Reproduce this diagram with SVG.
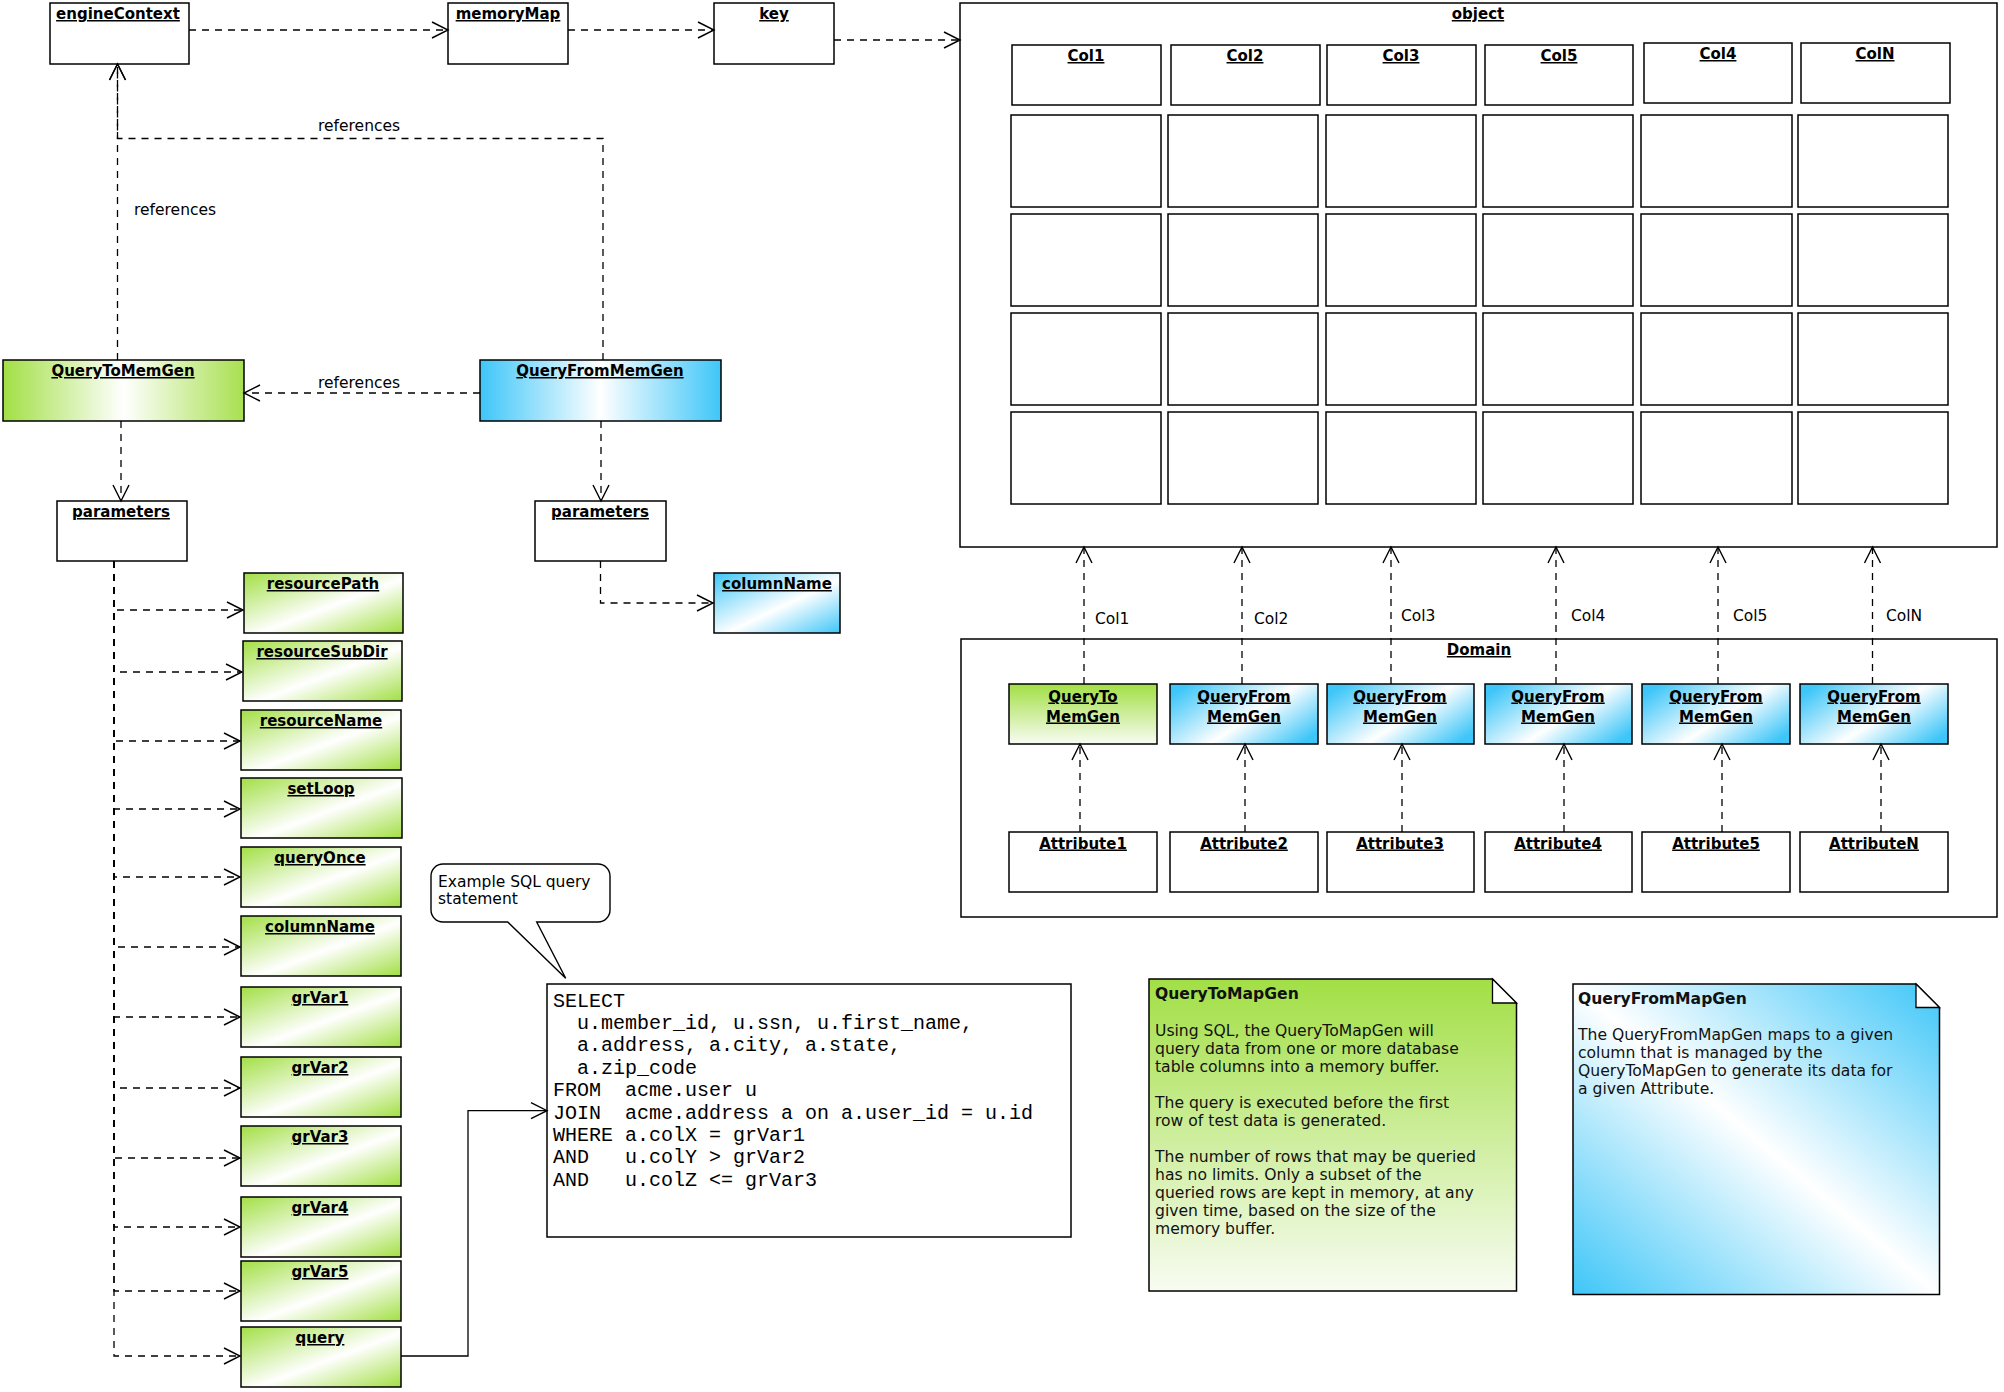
<svg xmlns="http://www.w3.org/2000/svg" width="2004" height="1392" viewBox="0 0 2004 1392">
<style>
.box{fill:#fff;stroke:#000;stroke-width:1.5}
.gh{fill:url(#gH);stroke:#000;stroke-width:1.5}
.bh{fill:url(#bH);stroke:#000;stroke-width:1.5}
.gd{fill:url(#gD);stroke:#000;stroke-width:1.5}
.bd{fill:url(#bD);stroke:#000;stroke-width:1.5}
.bx{fill:url(#bX);stroke:#000;stroke-width:1.5}
.gv{fill:url(#gV);stroke:#000;stroke-width:1.5}
.t{font-family:'DejaVu Sans',Verdana,sans-serif;font-size:15px;font-weight:bold;text-decoration:underline;text-anchor:middle;fill:#000}
.lbl{font-family:'DejaVu Sans',Verdana,sans-serif;font-size:15.5px;fill:#000}
.nt{font-family:'DejaVu Sans',Verdana,sans-serif;font-size:15.6px;fill:#111}
.ntb{font-family:'DejaVu Sans',Verdana,sans-serif;font-size:15.6px;font-weight:bold;fill:#111}
.sql{font-family:'Liberation Mono','Courier New',monospace;font-size:20px;fill:#000;white-space:pre}
.dash{fill:none;stroke:#000;stroke-width:1.3;stroke-dasharray:7 6;marker-end:url(#arr)}
.solid{fill:none;stroke:#000;stroke-width:1.3;marker-end:url(#arr)}
</style>
<defs>
<marker id="arr" markerUnits="userSpaceOnUse" markerWidth="20" markerHeight="20" viewBox="0 0 20 20" refX="17" refY="10" orient="auto">
<path d="M1,2 L17,10 L1,18" fill="none" stroke="#000" stroke-width="1.4"/>
</marker>
<linearGradient id="gH" x1="0" y1="0" x2="1" y2="0"><stop offset="0" stop-color="#a2df45"/><stop offset="0.5" stop-color="#ffffff"/><stop offset="1" stop-color="#a8e050"/></linearGradient>
<linearGradient id="bH" x1="0" y1="0" x2="1" y2="0"><stop offset="0" stop-color="#3ec6f8"/><stop offset="0.5" stop-color="#ffffff"/><stop offset="1" stop-color="#3ec6f8"/></linearGradient>
<linearGradient id="gD" x1="0" y1="0" x2="1" y2="1"><stop offset="0" stop-color="#a2df45"/><stop offset="0.55" stop-color="#ffffff"/><stop offset="1" stop-color="#a2df45"/></linearGradient>
<linearGradient id="bD" x1="0" y1="0" x2="1" y2="1"><stop offset="0" stop-color="#3ec6f8"/><stop offset="0.55" stop-color="#ffffff"/><stop offset="1" stop-color="#3ec6f8"/></linearGradient>
<linearGradient id="bX" x1="0" y1="0.2" x2="1" y2="0.8"><stop offset="0" stop-color="#3ec6f8"/><stop offset="0.55" stop-color="#ffffff"/><stop offset="1" stop-color="#3ec6f8"/></linearGradient>
<linearGradient id="gV" x1="0" y1="0" x2="0" y2="1"><stop offset="0" stop-color="#a2df45"/><stop offset="1" stop-color="#f8fcf2"/></linearGradient>
<linearGradient id="bN" x1="1" y1="0" x2="0" y2="1"><stop offset="0" stop-color="#3ec6f8"/><stop offset="0.5" stop-color="#ffffff"/><stop offset="1" stop-color="#3ec6f8"/></linearGradient>
</defs>
<rect width="2004" height="1392" fill="#fff"/>

<g id="engineContext"><rect class="box" x="50" y="3" width="139" height="61"/><text class="t" x="118" y="19">engineContext</text></g>
<g id="memoryMap"><rect class="box" x="448" y="3" width="120" height="61"/><text class="t" x="508" y="19">memoryMap</text></g>
<g id="key"><rect class="box" x="714" y="3" width="120" height="61"/><text class="t" x="774" y="19">key</text></g>

<g id="object">
<rect class="box" x="960" y="3" width="1037" height="544"/>
<text class="t" x="1478" y="19">object</text>
<rect class="box" x="1012" y="45" width="149" height="60"/><text class="t" x="1086" y="61">Col1</text>
<rect class="box" x="1171" y="45" width="149" height="60"/><text class="t" x="1245" y="61">Col2</text>
<rect class="box" x="1327" y="45" width="149" height="60"/><text class="t" x="1401" y="61">Col3</text>
<rect class="box" x="1485" y="45" width="148" height="60"/><text class="t" x="1559" y="61">Col5</text>
<rect class="box" x="1644" y="43" width="148" height="60"/><text class="t" x="1718" y="59">Col4</text>
<rect class="box" x="1801" y="43" width="149" height="60"/><text class="t" x="1875" y="59">ColN</text>
<g id="object-grid">
<rect class="box" x="1011" y="115" width="150" height="92"/><rect class="box" x="1168" y="115" width="150" height="92"/><rect class="box" x="1326" y="115" width="150" height="92"/><rect class="box" x="1483" y="115" width="150" height="92"/><rect class="box" x="1641" y="115" width="151" height="92"/><rect class="box" x="1798" y="115" width="150" height="92"/>
<rect class="box" x="1011" y="214" width="150" height="92"/><rect class="box" x="1168" y="214" width="150" height="92"/><rect class="box" x="1326" y="214" width="150" height="92"/><rect class="box" x="1483" y="214" width="150" height="92"/><rect class="box" x="1641" y="214" width="151" height="92"/><rect class="box" x="1798" y="214" width="150" height="92"/>
<rect class="box" x="1011" y="313" width="150" height="92"/><rect class="box" x="1168" y="313" width="150" height="92"/><rect class="box" x="1326" y="313" width="150" height="92"/><rect class="box" x="1483" y="313" width="150" height="92"/><rect class="box" x="1641" y="313" width="151" height="92"/><rect class="box" x="1798" y="313" width="150" height="92"/>
<rect class="box" x="1011" y="412" width="150" height="92"/><rect class="box" x="1168" y="412" width="150" height="92"/><rect class="box" x="1326" y="412" width="150" height="92"/><rect class="box" x="1483" y="412" width="150" height="92"/><rect class="box" x="1641" y="412" width="151" height="92"/><rect class="box" x="1798" y="412" width="150" height="92"/>
</g>
</g>

<g id="QueryToMemGen"><rect class="gh" x="3" y="360" width="241" height="61"/><text class="t" x="123" y="376">QueryToMemGen</text></g>
<g id="QueryFromMemGen"><rect class="bh" x="480" y="360" width="241" height="61"/><text class="t" x="600" y="376">QueryFromMemGen</text></g>
<g id="parameters1"><rect class="box" x="57" y="501" width="130" height="60"/><text class="t" x="121" y="517">parameters</text></g>
<g id="parameters2"><rect class="box" x="535" y="501" width="131" height="60"/><text class="t" x="600" y="517">parameters</text></g>
<g id="columnName2"><rect class="bd" x="714" y="573" width="126" height="60"/><text class="t" x="777" y="589">columnName</text></g>

<g id="resourcePath"><rect class="gd" x="244" y="573" width="159" height="60"/><text class="t" x="323" y="589">resourcePath</text></g>
<g id="resourceSubDir"><rect class="gd" x="243" y="641" width="159" height="60"/><text class="t" x="322" y="657">resourceSubDir</text></g>
<g id="resourceName"><rect class="gd" x="241" y="710" width="160" height="60"/><text class="t" x="321" y="726">resourceName</text></g>
<g id="setLoop"><rect class="gd" x="241" y="778" width="161" height="60"/><text class="t" x="321" y="794">setLoop</text></g>
<g id="queryOnce"><rect class="gd" x="241" y="847" width="160" height="60"/><text class="t" x="320" y="863">queryOnce</text></g>
<g id="columnName1"><rect class="gd" x="241" y="916" width="160" height="60"/><text class="t" x="320" y="932">columnName</text></g>
<g id="grVar1"><rect class="gd" x="241" y="987" width="160" height="60"/><text class="t" x="320" y="1003">grVar1</text></g>
<g id="grVar2"><rect class="gd" x="241" y="1057" width="160" height="60"/><text class="t" x="320" y="1073">grVar2</text></g>
<g id="grVar3"><rect class="gd" x="241" y="1126" width="160" height="60"/><text class="t" x="320" y="1142">grVar3</text></g>
<g id="grVar4"><rect class="gd" x="241" y="1197" width="160" height="60"/><text class="t" x="320" y="1213">grVar4</text></g>
<g id="grVar5"><rect class="gd" x="241" y="1261" width="160" height="60"/><text class="t" x="320" y="1277">grVar5</text></g>
<g id="query"><rect class="gd" x="241" y="1327" width="160" height="60"/><text class="t" x="320" y="1343">query</text></g>

<g id="callout">
<path d="M443,864 H598 A12,12 0 0 1 610,876 V910 A12,12 0 0 1 598,922 H536.7 L565.7,978.3 L507.7,922 H443 A12,12 0 0 1 431,910 V876 A12,12 0 0 1 443,864 Z" fill="#fff" stroke="#000" stroke-width="1.4"/>
<text class="lbl" x="438" y="887">Example SQL query</text>
<text class="lbl" x="438" y="904">statement</text>
</g>

<g id="sqlStatement">
<rect class="box" x="547" y="984" width="524" height="253"/>
<text class="sql" x="553" y="1006.5">SELECT</text>
<text class="sql" x="553" y="1028.9">  u.member_id, u.ssn, u.first_name,</text>
<text class="sql" x="553" y="1051.3">  a.address, a.city, a.state,</text>
<text class="sql" x="553" y="1073.7">  a.zip_code</text>
<text class="sql" x="553" y="1096.1">FROM  acme.user u</text>
<text class="sql" x="553" y="1118.5">JOIN  acme.address a on a.user_id = u.id</text>
<text class="sql" x="553" y="1140.9">WHERE a.colX = grVar1</text>
<text class="sql" x="553" y="1163.3">AND   u.colY &gt; grVar2</text>
<text class="sql" x="553" y="1185.7">AND   u.colZ &lt;= grVar3</text>
</g>

<g id="Domain">
<rect class="box" x="961" y="639" width="1036" height="278"/>
<text class="t" x="1479" y="655">Domain</text>
</g>
<g id="dQueryToMemGen"><rect class="gv" x="1009" y="684" width="148" height="60"/><text class="t" x="1083" y="701.5">QueryTo</text><text class="t" x="1083" y="721.5">MemGen</text></g>
<g id="dQueryFromMemGen2"><rect class="bx" x="1170" y="684" width="148" height="60"/><text class="t" x="1244" y="701.5">QueryFrom</text><text class="t" x="1244" y="721.5">MemGen</text></g>
<g id="dQueryFromMemGen3"><rect class="bx" x="1327" y="684" width="147" height="60"/><text class="t" x="1400" y="701.5">QueryFrom</text><text class="t" x="1400" y="721.5">MemGen</text></g>
<g id="dQueryFromMemGen4"><rect class="bx" x="1485" y="684" width="147" height="60"/><text class="t" x="1558" y="701.5">QueryFrom</text><text class="t" x="1558" y="721.5">MemGen</text></g>
<g id="dQueryFromMemGen5"><rect class="bx" x="1642" y="684" width="148" height="60"/><text class="t" x="1716" y="701.5">QueryFrom</text><text class="t" x="1716" y="721.5">MemGen</text></g>
<g id="dQueryFromMemGenN"><rect class="bx" x="1800" y="684" width="148" height="60"/><text class="t" x="1874" y="701.5">QueryFrom</text><text class="t" x="1874" y="721.5">MemGen</text></g>
<g id="Attribute1"><rect class="box" x="1009" y="832" width="148" height="60"/><text class="t" x="1083" y="848.5">Attribute1</text></g>
<g id="Attribute2"><rect class="box" x="1170" y="832" width="148" height="60"/><text class="t" x="1244" y="848.5">Attribute2</text></g>
<g id="Attribute3"><rect class="box" x="1327" y="832" width="147" height="60"/><text class="t" x="1400" y="848.5">Attribute3</text></g>
<g id="Attribute4"><rect class="box" x="1485" y="832" width="147" height="60"/><text class="t" x="1558" y="848.5">Attribute4</text></g>
<g id="Attribute5"><rect class="box" x="1642" y="832" width="148" height="60"/><text class="t" x="1716" y="848.5">Attribute5</text></g>
<g id="AttributeN"><rect class="box" x="1800" y="832" width="148" height="60"/><text class="t" x="1874" y="848.5">AttributeN</text></g>

<g id="noteQueryToMapGen">
<path d="M1149,979 H1492.5 L1516.5,1003 V1291 H1149 Z" fill="url(#gV)" stroke="#000" stroke-width="1.5"/>
<path d="M1492.5,979 L1516.5,1003 L1492.5,1003 Z" fill="#fff" stroke="#000" stroke-width="1.3"/>
<text class="ntb" x="1155" y="999">QueryToMapGen</text>
<text class="nt" x="1155" y="1035.5">Using SQL, the QueryToMapGen will</text>
<text class="nt" x="1155" y="1053.5">query data from one or more database</text>
<text class="nt" x="1155" y="1071.5">table columns into a memory buffer.</text>
<text class="nt" x="1155" y="1108">The query is executed before the first</text>
<text class="nt" x="1155" y="1126">row of test data is generated.</text>
<text class="nt" x="1155" y="1162">The number of rows that may be queried</text>
<text class="nt" x="1155" y="1180">has no limits. Only a subset of the</text>
<text class="nt" x="1155" y="1198">queried rows are kept in memory, at any</text>
<text class="nt" x="1155" y="1216">given time, based on the size of the</text>
<text class="nt" x="1155" y="1234">memory buffer.</text>
</g>

<g id="noteQueryFromMapGen">
<path d="M1573,984 H1916 L1939.5,1007.5 V1294.5 H1573 Z" fill="url(#bN)" stroke="#000" stroke-width="1.5"/>
<path d="M1916,984 L1939.5,1007.5 L1916,1007.5 Z" fill="#fff" stroke="#000" stroke-width="1.3"/>
<text class="ntb" x="1578" y="1004">QueryFromMapGen</text>
<text class="nt" x="1578" y="1040">The QueryFromMapGen maps to a given</text>
<text class="nt" x="1578" y="1058">column that is managed by the</text>
<text class="nt" x="1578" y="1076">QueryToMapGen to generate its data for</text>
<text class="nt" x="1578" y="1094">a given Attribute.</text>
</g>

<g id="connectors">
<line class="dash" x1="189" y1="30" x2="448" y2="30"/>
<line class="dash" x1="568" y1="30" x2="714" y2="30"/>
<line class="dash" x1="834" y1="40" x2="960" y2="40"/>
<line class="dash" x1="117.5" y1="360" x2="117.5" y2="64"/>
<polyline class="dash" points="603,360 603,138.5 117.5,138.5 117.5,64"/>
<line class="dash" x1="480" y1="393" x2="244" y2="393"/>
<line class="dash" x1="121" y1="421" x2="121" y2="501"/>
<line class="dash" x1="601" y1="421" x2="601" y2="501"/>
<polyline class="dash" points="600.5,561 600.5,603 713,603"/>
<polyline class="dash" points="114,561 114,610 243,610"/>
<polyline class="dash" points="114,561 114,672 242,672"/>
<polyline class="dash" points="114,561 114,741 240,741"/>
<polyline class="dash" points="114,561 114,809 240,809"/>
<polyline class="dash" points="114,561 114,877 240,877"/>
<polyline class="dash" points="114,561 114,947 240,947"/>
<polyline class="dash" points="114,561 114,1017 240,1017"/>
<polyline class="dash" points="114,561 114,1088 240,1088"/>
<polyline class="dash" points="114,561 114,1158 240,1158"/>
<polyline class="dash" points="114,561 114,1227 240,1227"/>
<polyline class="dash" points="114,561 114,1291 240,1291"/>
<polyline class="dash" points="114,561 114,1356 240,1356"/>
<polyline class="solid" points="401,1356 468,1356 468,1110.7 547,1110.7"/>
<line class="dash" x1="1084" y1="684" x2="1084" y2="547"/>
<line class="dash" x1="1242" y1="684" x2="1242" y2="547"/>
<line class="dash" x1="1391" y1="684" x2="1391" y2="547"/>
<line class="dash" x1="1556" y1="684" x2="1556" y2="547"/>
<line class="dash" x1="1718" y1="684" x2="1718" y2="547"/>
<line class="dash" x1="1872.5" y1="684" x2="1872.5" y2="547"/>
<line class="dash" x1="1080" y1="832" x2="1080" y2="744"/>
<line class="dash" x1="1245" y1="832" x2="1245" y2="744"/>
<line class="dash" x1="1402" y1="832" x2="1402" y2="744"/>
<line class="dash" x1="1564" y1="832" x2="1564" y2="744"/>
<line class="dash" x1="1722" y1="832" x2="1722" y2="744"/>
<line class="dash" x1="1881" y1="832" x2="1881" y2="744"/>
<text class="lbl" x="134" y="215">references</text>
<text class="lbl" x="318" y="131">references</text>
<text class="lbl" x="318" y="388">references</text>
<text class="lbl" x="1095" y="624">Col1</text>
<text class="lbl" x="1254" y="624">Col2</text>
<text class="lbl" x="1401" y="621">Col3</text>
<text class="lbl" x="1571" y="621">Col4</text>
<text class="lbl" x="1733" y="621">Col5</text>
<text class="lbl" x="1886" y="621">ColN</text>
</g>
</svg>
